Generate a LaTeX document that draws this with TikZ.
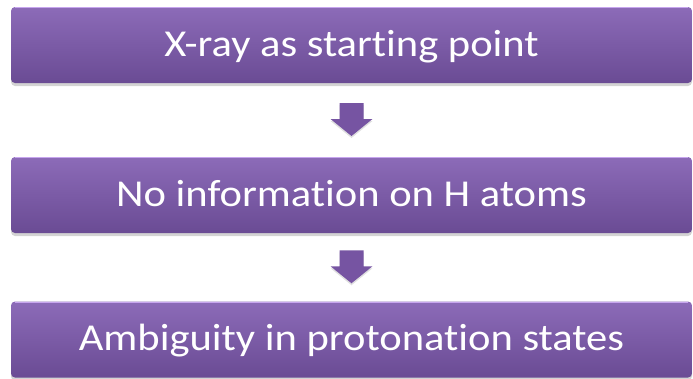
\documentclass[tikz,border=0pt]{standalone}
\usepackage{fontspec}
\setmainfont[Ligatures=NoCommon]{Carlito}
\usetikzlibrary{shadows,calc}

\definecolor{purpTop}{HTML}{8C6BB8}
\definecolor{purpMid}{HTML}{7B59A6}
\definecolor{purpBot}{HTML}{6A4B94}
\definecolor{purpRim}{HTML}{C7A6EE}
\definecolor{purpArrow}{HTML}{7654A2}

% slightly widened step text
\newcommand{\steptext}[1]{\scalebox{1.12}[1]{#1}}

\tikzset{
  stepbox/.style={rectangle,rounded corners=4pt,minimum width=681pt,minimum height=76pt,
    top color=purpTop,middle color=purpMid,bottom color=purpBot,text=white,
    font=\fontsize{38}{44}\selectfont,text height=26pt,text depth=4pt,
    drop shadow={opacity=0.35,shadow xshift=0pt,shadow yshift=-3pt}},
  blockarrow/.style={fill=purpArrow,
    drop shadow={opacity=0.25,shadow xshift=0pt,shadow yshift=-2pt}}
}

\begin{document}
\begin{tikzpicture}[x=1pt,y=-1pt]
  \useasboundingbox (0,0) rectangle (693,378);

  % the three steps
  \node[stepbox] (xray)   at (351.5,45)    {\steptext{X-ray as starting point}};
  \node[stepbox] (noH)    at (351.5,195)   {\steptext{No information on H atoms}};
  \node[stepbox] (ambig)  at (351.5,339.5) {\steptext{Ambiguity in protonation states}};

  % light rim along the top edges
  \foreach \b in {xray,noH,ambig}
    \draw[purpRim,line width=1.2pt] ($(\b.north west)+(4,1)$) -- ($(\b.north east)+(-4,1)$);

  % block arrows between the steps
  \path (xray.south) -- (noH.north) coordinate[midway] (m1);
  \path (noH.south) -- (ambig.north) coordinate[midway] (m2);
  \foreach \m in {m1,m2}
    \fill[blockarrow] (\m) ++(-12,-17) -- ++(24,0) -- ++(0,16) -- ++(9,0)
      -- ++(-21,17) -- ++(-21,-17) -- ++(9,0) -- cycle;
\end{tikzpicture}
\end{document}
